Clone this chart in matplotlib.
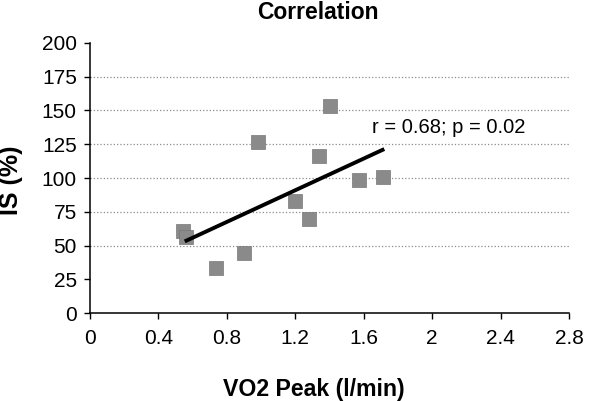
import numpy as np
import matplotlib
matplotlib.use('Agg')
from matplotlib import pyplot as plt

plt.rcParams['font.family'] = ['Liberation Sans', 'DejaVu Sans']

# values
vo2_peak = [0.544, 0.56, 0.737, 0.90, 0.98, 1.20, 1.28, 1.34, 1.40, 1.57, 1.71]
is_pct = [60.8, 56.4, 33.3, 44.3, 126.8, 83.2, 69.4, 116.3, 153.2, 98.5, 101.0]
x_ticks = [0, 0.4, 0.8, 1.2, 1.6, 2, 2.4, 2.8]
x_ticklabels = ['0', '0.4', '0.8', '1.2', '1.6', '2', '2.4', '2.8']
y_ticks = [0, 25, 50, 75, 100, 125, 150, 175, 200]
grid_levels = [50, 75, 100, 125, 150, 175]
stats_text = 'r = 0.68; p = 0.02'

fig = plt.figure(figsize=(6, 4.01), dpi=100)
ax = fig.add_axes([90 / 600, 1 - 313.3 / 401, 479 / 600, 270.6 / 401])

ax.hlines(grid_levels, 0, 2.8, colors='#8c8c8c', linestyles=':', linewidth=0.9, zorder=1)

ax.scatter(vo2_peak, is_pct, marker='s', s=100, c='#8a8a8a', edgecolors='#777777',
           linewidths=0.5, zorder=3)

# linear trend line
slope, intercept = np.polyfit(vo2_peak, is_pct, 1)
xs = np.array([min(vo2_peak) + 0.02, max(vo2_peak)])
ax.plot(xs, slope * xs + intercept, color='black', linewidth=2.8, zorder=4)

ax.text(1.647, 133, stats_text, fontsize=14.5, va='baseline', ha='left', zorder=5)

ax.set_xlim(0, 2.8)
ax.set_ylim(0, 200)
ax.set_xticks(x_ticks)
ax.set_xticklabels(x_ticklabels)
ax.set_yticks(y_ticks)
ax.tick_params(axis='both', direction='out', length=4.5, width=1.0, labelsize=15,
               color='black')
ax.tick_params(axis='x', pad=7)
ax.tick_params(axis='y', pad=5)
for side in ['top', 'right']:
    ax.spines[side].set_visible(False)
for side in ['left', 'bottom']:
    ax.spines[side].set_linewidth(1.1)

fig.text(318 / 600, 1 - 19 / 401, 'Correlation', fontsize=16.5, fontweight='bold',
         ha='center', va='baseline')
fig.text(313.5 / 600, 1 - 396 / 401, 'VO2 Peak (l/min)', fontsize=16.7, fontweight='bold',
         ha='center', va='baseline')
fig.text(11 / 600, 1 - 180.5 / 401, 'IS (%)', fontsize=18, fontweight='bold',
         ha='center', va='center', rotation=90)

fig.savefig('out.png', dpi=100)
